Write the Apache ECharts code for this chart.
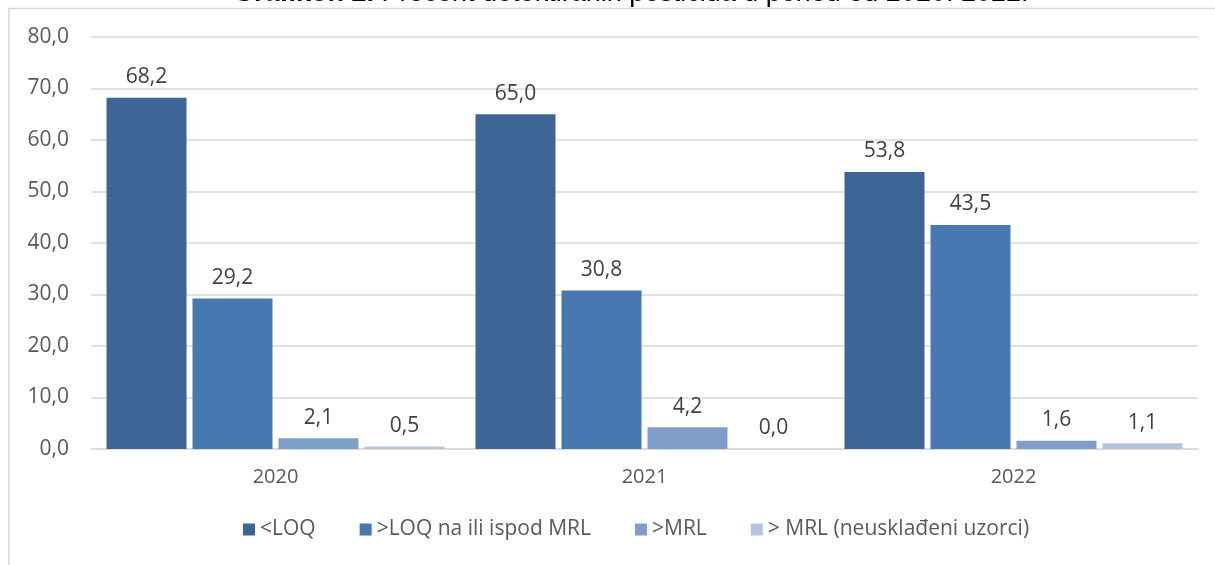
<!DOCTYPE html>
<html>
<head>
<meta charset="utf-8">
<script src="https://cdn.jsdelivr.net/npm/echarts@6/dist/echarts.min.js"></script>
<style>
  html, body { margin: 0; padding: 0; background: #fff; }
  #chart { width: 1215px; height: 565px; }
</style>
</head>
<body>
<div id="chart"></div>
<script>
// podaci
const years = ['2020', '2021', '2022'];
const seriesNames = ['<LOQ', '>LOQ na ili ispod MRL', '>MRL', '> MRL (neusklađeni uzorci)'];
const belowLoq = [68.2, 65.0, 53.8];
const aboveLoq = [29.2, 30.8, 43.5];
const aboveMrl = [2.1, 4.2, 1.6];
const aboveMrlNonCompliant = [0.5, 0.0, 1.1];
const yTicks = [0, 10, 20, 30, 40, 50, 60, 70, 80];

const colors = ['#3d6495', '#4878b0', '#7f9dc9', '#b4c3de'];
const font = '"Open Sans", "Noto Sans", sans-serif';

const fmt = v => Number(v).toFixed(1).replace('.', ',');

const allData = [belowLoq, aboveLoq, aboveMrl, aboveMrlNonCompliant];

let chartDom = document.getElementById('chart');
let myChart = echarts.init(chartDom);

let option = {
  animation: false,
  color: colors,
  title: {
    text: '{b|Grafikon 2.} Procent detektiranih pesticida u period od 2020. 2022.',
    left: 228,
    top: -25,
    textStyle: {
      fontFamily: 'Liberation Sans, Arial, sans-serif',
      fontSize: 27,
      fontWeight: 'normal',
      color: '#000',
      rich: {
        b: { fontFamily: 'Liberation Sans, Arial, sans-serif', fontSize: 27, fontWeight: 'bold', color: '#000' }
      }
    }
  },
  graphic: [
    {
      type: 'line',
      shape: { x1: 8, y1: 8.5, x2: 1215, y2: 8.5 },
      style: { stroke: '#d6d6d6', lineWidth: 1.5 },
      silent: true
    },
    {
      type: 'line',
      shape: { x1: 9, y1: 8, x2: 9, y2: 565 },
      style: { stroke: '#d6d6d6', lineWidth: 1.5 },
      silent: true
    }
  ],
  legend: {
    bottom: 20,
    left: 238,
    itemWidth: 12,
    itemHeight: 12,
    itemGap: 44,
    icon: 'rect',
    textStyle: { fontFamily: font, fontSize: 21, color: '#595959' },
    data: seriesNames
  },
  grid: {
    left: 91,
    right: 17,
    top: 37,
    bottom: 116
  },
  xAxis: {
    type: 'category',
    data: years,
    axisLine: { lineStyle: { color: '#d9d9d9', width: 1.5 } },
    axisTick: { show: false },
    axisLabel: { fontFamily: font, fontSize: 20, color: '#595959', margin: 18 }
  },
  yAxis: {
    type: 'value',
    min: yTicks[0],
    max: yTicks[yTicks.length - 1],
    interval: 10,
    axisLine: { show: false },
    axisTick: { show: false },
    splitLine: { lineStyle: { color: '#d9d9d9', width: 1.5 } },
    axisLabel: { fontFamily: font, fontSize: 21, color: '#595959', margin: 22, formatter: fmt }
  },
  series: allData.map((d, i) => ({
    name: seriesNames[i],
    type: 'bar',
    data: d,
    barGap: '7.5%',
    barCategoryGap: '8.4%',
    label: {
      show: true,
      position: 'top',
      distance: 10,
      fontFamily: font,
      fontSize: 21,
      color: '#404040',
      formatter: p => fmt(p.value)
    }
  }))
};

myChart.setOption(option);
</script>
</body>
</html>
